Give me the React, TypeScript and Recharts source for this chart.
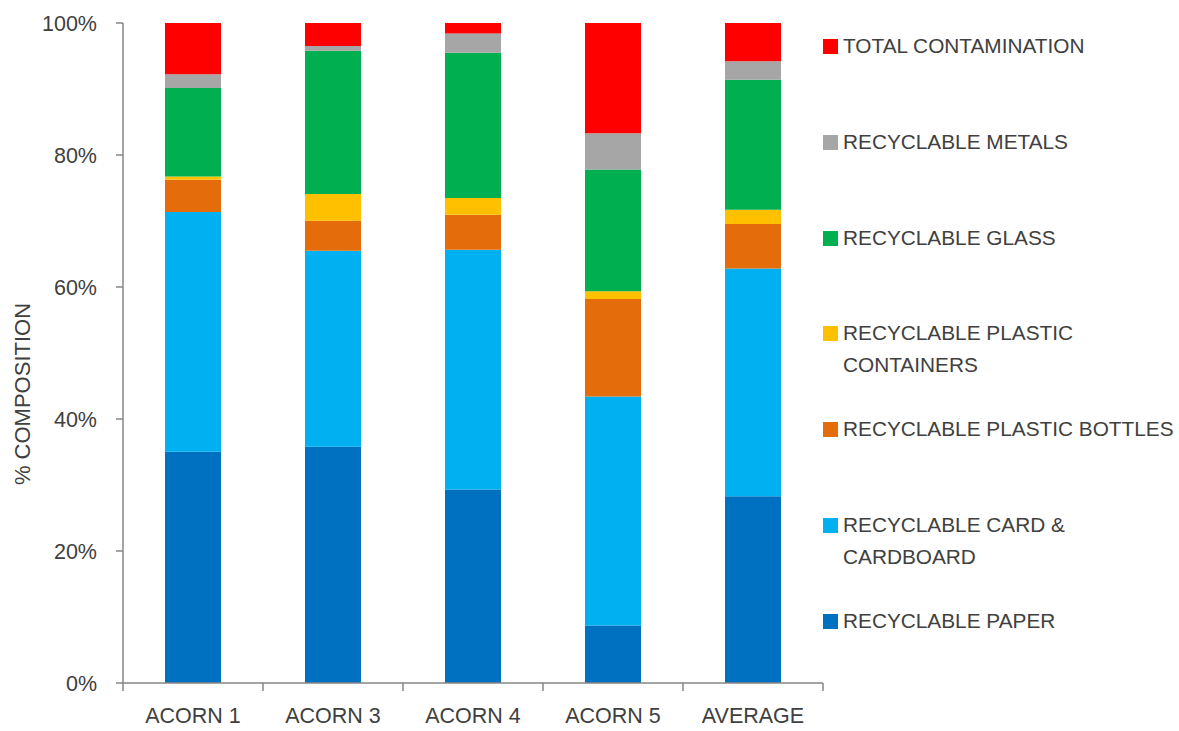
import React from 'react';
import { BarChart, Bar, XAxis, YAxis, Label } from 'recharts';

// composition by ACORN group, % of recyclable stream
const categories = ['ACORN 1', 'ACORN 3', 'ACORN 4', 'ACORN 5', 'AVERAGE'];
const paper = [35.05, 35.8, 29.3, 8.7, 28.3];
const card = [36.3, 29.7, 36.35, 34.7, 34.5];
const bottles = [4.9, 4.55, 5.3, 14.8, 6.75];
const containers = [0.5, 4.05, 2.55, 1.15, 2.15];
const glass = [13.4, 21.7, 22.0, 18.45, 19.7];
const metals = [2.1, 0.7, 2.9, 5.5, 2.8];
const contamination = [7.75, 3.5, 1.6, 16.7, 5.8];
const yTicks = [0, 20, 40, 60, 80, 100];

// stacked bottom to top
const series = [
    { key: 'paper', label: ['RECYCLABLE PAPER'], color: '#0070C0', values: paper },
    { key: 'card', label: ['RECYCLABLE CARD &', 'CARDBOARD'], color: '#00B0F0', values: card },
    { key: 'bottles', label: ['RECYCLABLE PLASTIC BOTTLES'], color: '#E46C0A', values: bottles },
    { key: 'containers', label: ['RECYCLABLE PLASTIC', 'CONTAINERS'], color: '#FFC000', values: containers },
    { key: 'glass', label: ['RECYCLABLE GLASS'], color: '#00B050', values: glass },
    { key: 'metals', label: ['RECYCLABLE METALS'], color: '#A6A6A6', values: metals },
    { key: 'contamination', label: ['TOTAL CONTAMINATION'], color: '#FF0000', values: contamination },
];

const data = categories.map((name, i) => {
    const row: Record<string, any> = { name };
    series.forEach(s => { row[s.key] = s.values[i]; });
    return row;
});

const W = 1179;
const H = 731;
const PLOT_LEFT = 123;
const PLOT_RIGHT = 823;
const X_TICK_GAP = 25;
const FONT = '"Liberation Sans", Arial, sans-serif';
const TEXT = '#404040';
const AXIS = '#868686';

const halfBand = (PLOT_RIGHT - PLOT_LEFT) / categories.length / 2;

// category labels with tick marks on the category boundaries
const CategoryTick: React.FC<any> = ({ x, y, payload, index }) => {
    const axisY = y - X_TICK_GAP;
    return (
        <g>
            <line x1={x - halfBand} x2={x - halfBand} y1={axisY} y2={axisY + 8} stroke={AXIS} strokeWidth={1.5} />
            {index === categories.length - 1 && (
                <line x1={x + halfBand} x2={x + halfBand} y1={axisY} y2={axisY + 8} stroke={AXIS} strokeWidth={1.5} />
            )}
            <text x={x} y={y} dy="0.71em" textAnchor="middle" fill={TEXT} fontSize={21.5} fontFamily={FONT}>
                {payload.value}
            </text>
        </g>
    );
};

const YAxisTitle: React.FC<any> = () => (
    <text x={22} y={394} transform="rotate(-90 22 394)" textAnchor="middle" dominantBaseline="central"
        fill={TEXT} fontSize={22} fontFamily={FONT}>
        % COMPOSITION
    </text>
);

const LegendBox: React.FC = () => (
    <div style={{ position: 'absolute', left: 823, top: 30, width: 356, fontFamily: FONT, fontSize: 20.8, color: TEXT }}>
        {[...series].reverse().map((s, i) => (
            <div key={s.key} style={{ position: 'absolute', top: i * 95.8, left: 0, display: 'flex', alignItems: 'flex-start' }}>
                <div style={{ width: 15, height: 15, background: s.color, marginTop: 9, marginRight: 5 }} />
                <div style={{ lineHeight: '32px', whiteSpace: 'nowrap' }}>
                    {s.label.map(l => <div key={l}>{l}</div>)}
                </div>
            </div>
        ))}
    </div>
);

export default function App() {
    return (
        <div style={{ position: 'absolute', left: 0, top: 0, width: W, height: H, background: '#fff' }}>
            <BarChart width={W} height={H} data={data} margin={{ top: 23, right: W - PLOT_RIGHT, bottom: 0, left: 0 }} barSize={56}>
                <XAxis dataKey="name" height={48} axisLine={{ stroke: AXIS, strokeWidth: 1.5 }} tickLine={false}
                    tickSize={0} tickMargin={X_TICK_GAP} tick={<CategoryTick />} interval={0} />
                <YAxis width={PLOT_LEFT} domain={[0, 100]} ticks={yTicks} tickFormatter={(v: number) => `${v}%`}
                    axisLine={{ stroke: AXIS, strokeWidth: 1.5 }} tickLine={{ stroke: AXIS, strokeWidth: 1.5 }}
                    tickSize={7} tickMargin={19} tick={{ fill: TEXT, fontSize: 21.5, fontFamily: FONT }}>
                    <Label content={<YAxisTitle />} />
                </YAxis>
                {series.map(s => (
                    <Bar key={s.key} dataKey={s.key} stackId="a" fill={s.color} isAnimationActive={false} />
                ))}
            </BarChart>
            <LegendBox />
        </div>
    );
}
